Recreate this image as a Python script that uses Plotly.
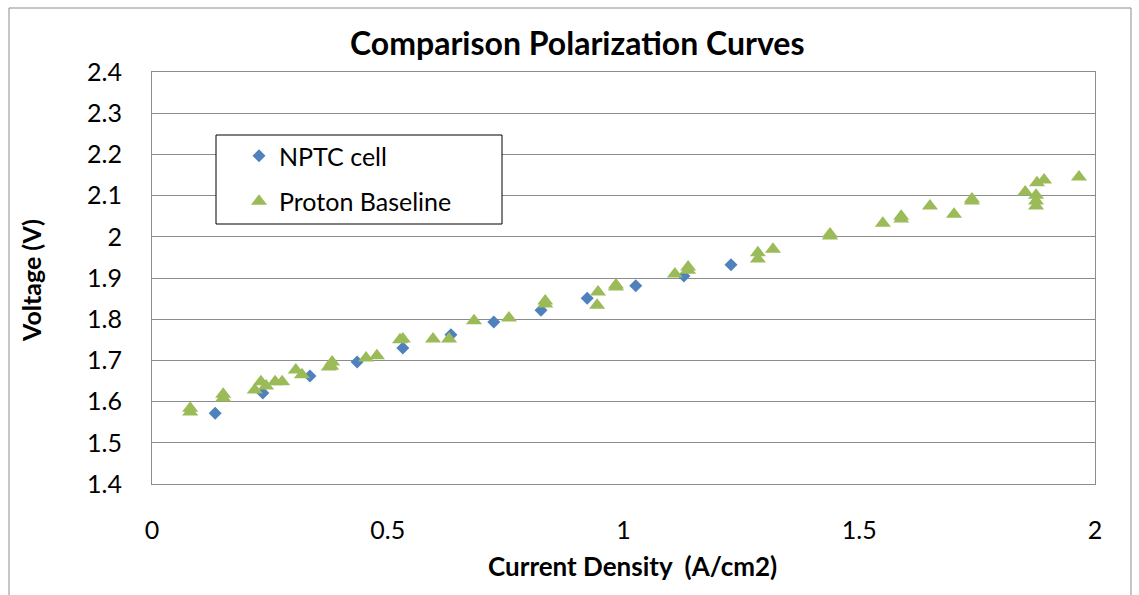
import plotly.graph_objects as go

# ---- data ----
nptc_x = [0.134, 0.235, 0.335, 0.435, 0.532, 0.634, 0.725, 0.825, 0.923, 1.026, 1.128, 1.228]
nptc_y = [1.572, 1.621, 1.662, 1.696, 1.730, 1.762, 1.793, 1.822, 1.851, 1.881, 1.905, 1.932]

proton_x = [0.081, 0.081, 0.151, 0.151, 0.218, 0.231, 0.242, 0.261, 0.276, 0.305,
            0.318, 0.375, 0.382, 0.380, 0.454, 0.477, 0.526, 0.532, 0.596, 0.630,
            0.683, 0.757, 0.834, 0.834, 0.946, 0.944, 0.984, 0.984, 1.109, 1.137,
            1.137, 1.285, 1.285, 1.317, 1.438, 1.438, 1.550, 1.589, 1.589, 1.650,
            1.701, 1.739, 1.739, 1.852, 1.877, 1.892, 1.875, 1.875, 1.875, 1.966]
proton_y = [1.575, 1.584, 1.609, 1.618, 1.628, 1.648, 1.638, 1.648, 1.648, 1.677,
            1.665, 1.684, 1.696, 1.686, 1.706, 1.711, 1.750, 1.752, 1.752, 1.752,
            1.796, 1.803, 1.837, 1.844, 1.866, 1.834, 1.878, 1.883, 1.910, 1.919,
            1.927, 1.961, 1.946, 1.970, 2.002, 2.007, 2.033, 2.043, 2.050, 2.075,
            2.055, 2.087, 2.092, 2.109, 2.131, 2.138, 2.101, 2.087, 2.075, 2.145]

x_ticks = [0, 0.5, 1, 1.5, 2]
y_ticks = [1.4, 1.5, 1.6, 1.7, 1.8, 1.9, 2.0, 2.1, 2.2, 2.3, 2.4]

title_text = "Comparison Polarization Curves"
x_title = "Current Density  (A/cm2)"
y_title = "Voltage (V)"
names = ["NPTC cell", "Proton Baseline"]

# ---- layout geometry (pixels) ----
W, H = 1139, 595
L, R, T, B = 152, 1095, 72, 484
pw, ph = R - L, B - T


def px(xp):
    return (xp - L) / pw


def py(yp):
    return (B - yp) / ph


FONT = "Lato"
BLUE = "#4F81BD"
GREEN = "#9BBB59"
GRID = "#8C8C8C"

fig = go.Figure()
fig.add_trace(go.Scatter(
    x=nptc_x, y=nptc_y, mode="markers", name=names[0], legendgroup="a",
    marker=dict(symbol="diamond", size=10, color=BLUE, line=dict(width=0)),
))
fig.add_trace(go.Scatter(
    x=proton_x, y=proton_y, mode="markers", name=names[1], legendgroup="b",
    marker=dict(symbol="triangle-up", size=14, color=GREEN, line=dict(width=0)),
))

fig.update_layout(
    width=W, height=H,
    margin=dict(l=L, r=W - R, t=T, b=H - B, pad=0),
    paper_bgcolor="white", plot_bgcolor="white",
    font=dict(family=FONT, color="black", size=25),
    showlegend=True,
    legend=dict(
        x=px(239), y=py(133), xanchor="left", yanchor="top",
        bgcolor="rgba(0,0,0,0)", borderwidth=0,
        font=dict(family=FONT, size=25, color="black"),
        traceorder="grouped", tracegroupgap=10,
    ),
    xaxis=dict(
        range=[0, 2], tickvals=x_ticks, ticktext=[f"{v:g}" for v in x_ticks],
        showgrid=False, zeroline=False,
        showline=True, linecolor=GRID, linewidth=1, mirror=True,
        ticks="", ticklabelstandoff=24,
        tickfont=dict(family=FONT, size=25),
    ),
    yaxis=dict(
        range=[1.4, 2.4], tickvals=y_ticks, ticktext=[f"{v:g}" for v in y_ticks],
        showgrid=True, gridcolor=GRID, gridwidth=1, zeroline=False,
        showline=True, linecolor=GRID, linewidth=1, mirror=True,
        ticks="", ticklabelstandoff=24,
        tickfont=dict(family=FONT, size=25),
    ),
    shapes=[
        # outer chart-area border
        dict(type="rect", xref="paper", yref="paper",
             x0=px(9), x1=px(1131), y0=py(610), y1=py(8),
             line=dict(color=GRID, width=1), fillcolor="rgba(0,0,0,0)", layer="below"),
        # legend box
        dict(type="rect", xref="paper", yref="paper",
             x0=px(216), x1=px(502), y0=py(224), y1=py(135),
             line=dict(color="black", width=1), fillcolor="white", layer="above"),
    ],
    annotations=[
        dict(text=f"<b>{title_text}</b>", xref="paper", yref="paper",
             x=px(577), y=py(43), xanchor="center", yanchor="middle",
             showarrow=False, font=dict(family=FONT, size=32, color="black")),
        dict(text=f"<b>{x_title}</b>", xref="paper", yref="paper",
             x=px(632), y=py(566), xanchor="center", yanchor="middle",
             showarrow=False, font=dict(family=FONT, size=26, color="black")),
        dict(text=f"<b>{y_title}</b>", xref="paper", yref="paper",
             x=px(31), y=py(281), xanchor="center", yanchor="middle", textangle=-90,
             showarrow=False, font=dict(family=FONT, size=25, color="black")),
    ],
)

fig.write_html("out.html", config={"displayModeBar": False},
               post_script="document.body.style.margin='0';")
